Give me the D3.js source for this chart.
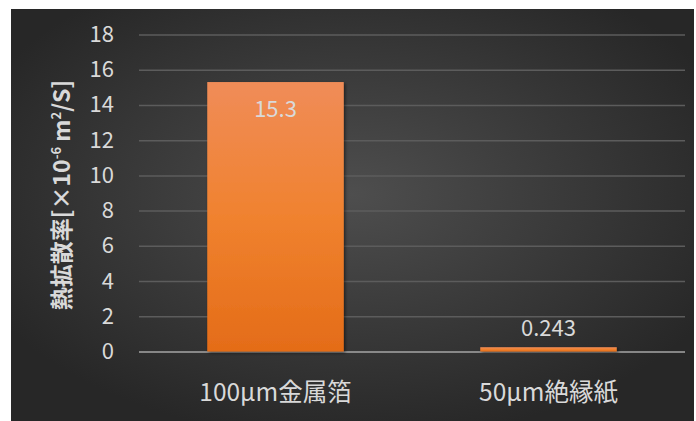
<!DOCTYPE html>
<html>
<head>
<meta charset="utf-8">
<script src="https://cdn.jsdelivr.net/npm/d3@7"></script>
<style>
  body { margin: 0; background: #fff; }
  text { font-family: "Noto Sans CJK JP", "Noto Sans", sans-serif; }
</style>
</head>
<body>
<svg width="696" height="421"></svg>
<script>
const categories = ['100μm金属箔', '50μm絶縁紙'],
  values = [15.3, 0.243],
  valueLabels = ['15.3', '0.243'],
  yTicks = [0, 2, 4, 6, 8, 10, 12, 14, 16, 18]

const svg = d3.select('svg'),
  plotLeft = 139,
  plotRight = 685,
  plotTop = 34.5,
  plotBottom = 351.5,
  x = d3.scaleBand().domain(categories).range([plotLeft, plotRight]).paddingInner(0.5).paddingOuter(0.25),
  y = d3.scaleLinear().domain([0, 18]).range([plotBottom, plotTop])

const defs = svg.append('defs')
const bg = defs.append('radialGradient').attr('id', 'bg').attr('cx', '50%').attr('cy', '45%').attr('r', '60%')
bg.append('stop').attr('offset', '0%').attr('stop-color', '#4e4e4e')
bg.append('stop').attr('offset', '100%').attr('stop-color', '#272727')
const barGrad = defs.append('linearGradient').attr('id', 'bar').attr('x1', 0).attr('y1', 0).attr('x2', 0).attr('y2', 1)
barGrad.append('stop').attr('offset', '0%').attr('stop-color', '#f08c58')
barGrad.append('stop').attr('offset', '50%').attr('stop-color', '#f0822f')
barGrad.append('stop').attr('offset', '100%').attr('stop-color', '#e46c18')
const shadow = defs.append('filter').attr('id', 'shadow').attr('x', '-10%').attr('y', '-10%').attr('width', '130%').attr('height', '130%')
shadow.append('feDropShadow').attr('dx', 1.5).attr('dy', 1.5).attr('stdDeviation', 1.5).attr('flood-color', '#000').attr('flood-opacity', 0.5)

// chart area background
svg.append('rect').attr('x', 11).attr('y', 9).attr('width', 683).attr('height', 412).attr('fill', 'url(#bg)')

// gridlines
const axisY = d3.axisLeft(y).tickValues(yTicks).tickSize(-(plotRight - plotLeft)).tickPadding(12)
const gy = svg.append('g').attr('transform', `translate(${plotLeft},0)`).call(axisY)
gy.select('.domain').remove()
gy.selectAll('.tick line').attr('stroke', d => d === 0 ? '#a6a6a6' : '#5c5c5c').attr('stroke-width', 1.5)
gy.selectAll('.tick text').attr('fill', '#d9d9d9').attr('font-size', 22).attr('x', -25)

// bars
svg.append('g').selectAll('rect').data(values).join('rect')
  .attr('x', (d, i) => x(categories[i]))
  .attr('y', d => y(d))
  .attr('width', x.bandwidth())
  .attr('height', d => Math.max(y(0) - y(d), 2.5))
  .attr('fill', 'url(#bar)')
  .attr('filter', 'url(#shadow)')

// value labels
svg.append('g').selectAll('text').data(values).join('text')
  .attr('x', (d, i) => x(categories[i]) + x.bandwidth() / 2)
  .attr('y', (d, i) => i === 0 ? y(d) + 35 : y(d) - 11)
  .attr('text-anchor', 'middle')
  .attr('fill', '#d9d9d9')
  .attr('font-size', 22)
  .text((d, i) => valueLabels[i])

// category labels
const axisX = d3.axisBottom(x).tickSize(0).tickPadding(32)
const gx = svg.append('g').attr('transform', `translate(0,${plotBottom})`).call(axisX)
gx.select('.domain').remove()
gx.selectAll('.tick text').attr('fill', '#d9d9d9').attr('font-size', 24.5)

// y axis title
const title = svg.append('text')
  .attr('transform', `translate(70,${(plotTop + plotBottom) / 2 + 2}) rotate(-90)`)
  .attr('text-anchor', 'middle')
  .attr('fill', '#d9d9d9')
  .attr('font-size', 23)
  .attr('font-weight', 'bold')
title.append('tspan').text('熱拡散率[×10')
title.append('tspan').attr('font-size', 13).attr('dy', -9).text('-6')
title.append('tspan').attr('dy', 9).text(' m')
title.append('tspan').attr('font-size', 13).attr('dy', -9).text('2')
title.append('tspan').attr('dy', 9).text('/S]')
</script>
</body>
</html>
